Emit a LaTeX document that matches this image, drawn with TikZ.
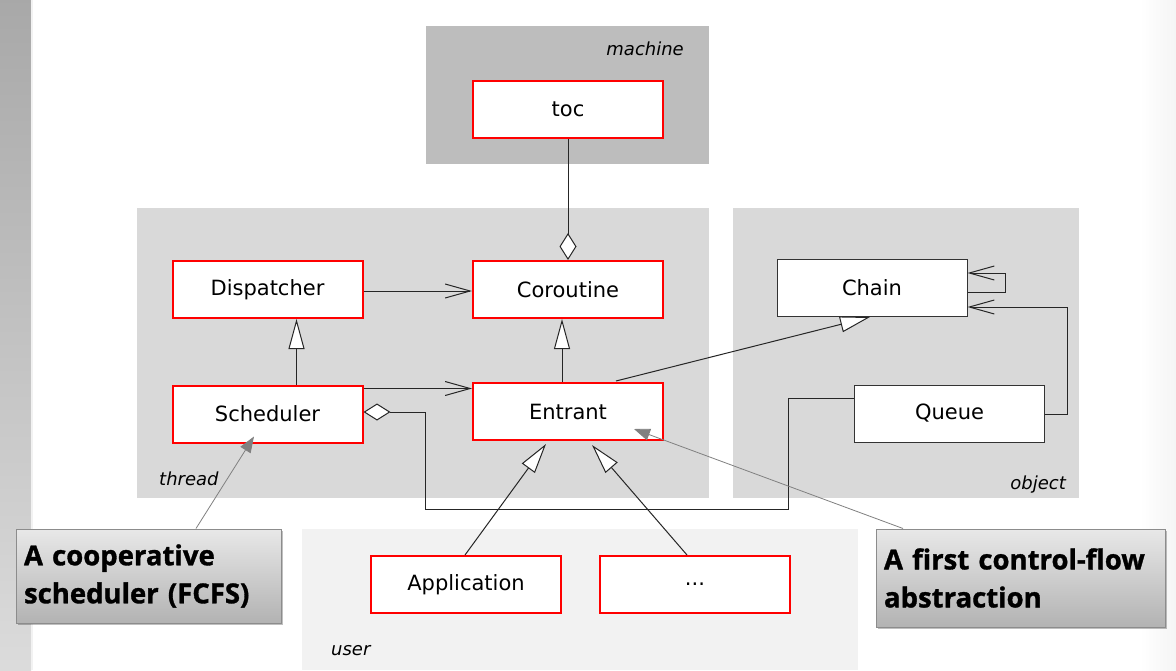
\documentclass[tikz,border=0pt]{standalone}
\usepackage{fontspec}
\setmainfont{DejaVu Sans}
\newfontfamily\callfont{Open Sans}[BoldFeatures={FakeBold=1.2}]
\usetikzlibrary{arrows.meta,shadows}
\begin{document}
\begin{tikzpicture}[x=1pt,y=-1pt,
  cls/.style={draw=red,line width=2pt,fill=white,minimum width=190pt,minimum height=57pt,inner sep=0pt,font=\fontsize{21}{25}\selectfont},
  plaincls/.style={cls,draw=black!80,line width=1pt},
  pkglabel/.style={font=\fontsize{18}{22}\selectfont\itshape,inner sep=0pt},
  conn/.style={draw=black!85,line width=1pt},
  opena/.style={conn,-{Straight Barb[length=25pt,width=14pt]}},
  gen/.style={conn,-{Triangle[length=30pt,width=16pt,fill=white]}},
  agg/.style={conn,{Diamond[length=27pt,width=17pt,fill=white]}-},
  callout/.style={draw=black!45,line width=1pt,top color=black!9,bottom color=black!30,
    drop shadow={shadow xshift=1.5pt,shadow yshift=-1.5pt,fill=black,opacity=0.25},
    inner xsep=8pt,align=left,font=\callfont\bfseries\fontsize{27.5}{38}\selectfont},
  pointer/.style={draw=black!50,line width=0.8pt,-{Triangle[length=16pt,width=12pt,fill=black!50]}}
]
\useasboundingbox (0,0) rectangle (1176,670);
\fill[white] (0,0) rectangle (1176,670);
\shade[top color=black!34,bottom color=black!14] (0,0) rectangle (31,670);
\fill[black!5] (31,0) rectangle (33,670);
\shade[left color=white,right color=black!4] (1140,0) rectangle (1176,670);

% packages
\fill[black!26] (426,26) rectangle (709,164);
\fill[black!15] (137,208) rectangle (709,498);
\fill[black!15] (733,208) rectangle (1079,498);
\fill[black!5] (302,529) rectangle (858,670);
\node[pkglabel,anchor=base east] (lmachine) at (684,55) {machine};
\node[pkglabel,anchor=base west] (lthread) at (159,485) {thread};
\node[pkglabel,anchor=base east] (lobject) at (1066,489) {object};
\node[pkglabel,anchor=base west] (luser) at (331,655) {user};

% classes
\node[cls] (toc) at (568,109.5) {toc};
\node[cls] (Dispatcher) at (267.5,289.5) {Dispatcher};
\node[cls] (Scheduler) at (267.5,414) {Scheduler};
\node[cls] (Coroutine) at (568,289.5) {Coroutine};
\node[cls] (Entrant) at (568,411.5) {Entrant};
\node[cls] (Application) at (466,584.5) {Application};
\node[cls] (dots) at (695,584.5) {...};
\node[plaincls] (Chain) at (872,288) {Chain};
\node[plaincls] (Queue) at (949.5,413.5) {Queue};

% connectors
\draw[agg] (Coroutine.north) -- (toc.south);
\draw[opena] ([yshift=-1.5pt]Dispatcher.east) -- ([yshift=-1.5pt]Dispatcher.east -| Coroutine.west);
\coordinate (s1) at ([yshift=-4pt]Scheduler.north east);
\draw[opena] (s1) -- (s1 -| Entrant.west);
\draw[gen] ([xshift=29pt]Scheduler.north) -- ([xshift=29pt]Dispatcher.south);
\draw[gen] ([xshift=-6pt]Entrant.north) -- ([xshift=-6pt]Coroutine.south);
\draw[gen] ([xshift=48pt,yshift=1pt]Entrant.north) -- ([xshift=-2pt]Chain.south);
\draw[gen] ([xshift=-1pt]Application.north) -- ([xshift=-22pt,yshift=-3pt]Entrant.south);
\draw[gen] ([xshift=-8pt]dots.north) -- ([xshift=24pt,yshift=-4pt]Entrant.south);
\coordinate (bendA) at (425,509);
\coordinate (bendB) at (788,509);
\draw[agg] ([yshift=2pt]Scheduler.east) -| (bendA) -- (bendB) |- ([yshift=15.5pt]Queue.west);
\coordinate (qc) at (1067,307);
\draw[opena] ([yshift=-1pt]Queue.east) -| (qc) -- (qc -| Chain.east);
\coordinate (cl) at (1005,273);
\draw[opena] ([yshift=-4pt]Chain.east) -| (cl) -- ([yshift=15pt]Chain.east);

% callouts
\node[callout,minimum width=265pt,minimum height=94pt,text width=249pt] (leftcall) at (148.5,576) {A cooperative\\scheduler (FCFS)};
\node[callout,minimum width=289pt,minimum height=98pt,text width=273pt] (rightcall) at (1020.5,578) {A first control-flow\\abstraction};
\draw[pointer] ([xshift=47.5pt]leftcall.north) -- ([xshift=-13.5pt,yshift=7pt]Scheduler.south);
\draw[pointer] ([xshift=-117.5pt]rightcall.north) -- ([xshift=-30pt,yshift=12pt]Entrant.south east);
\end{tikzpicture}
\end{document}
